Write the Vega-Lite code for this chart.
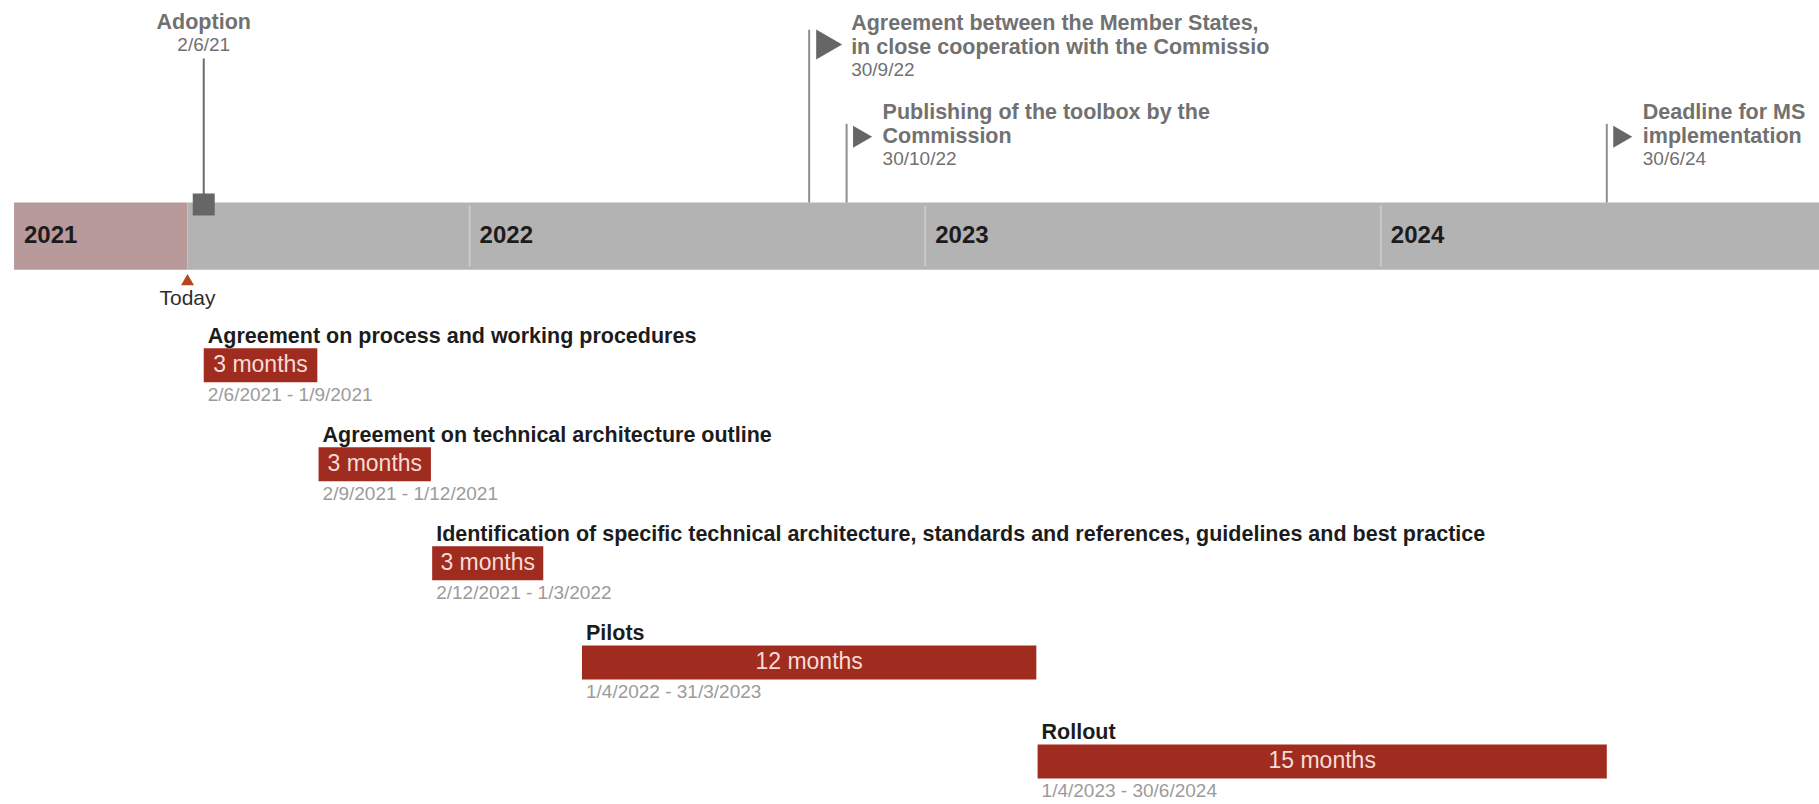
{
  "$schema": "https://vega.github.io/schema/vega-lite/v6.json",
  "width": 1805,
  "height": 804,
  "autosize": {"type": "none"},
  "padding": {"left": 14, "right": 0, "top": 0, "bottom": 0},
  "background": "white",
  "config": {"view": {"stroke": null}, "font": "Liberation Sans", "text": {"font": "Liberation Sans"}},
  "datasets": {
    "band": [
      {"seg": "past", "from": "2021-01-01", "to": "2021-05-20"},
      {"seg": "future", "from": "2021-05-20", "to": "2025-01-01"}
    ],
    "years": [
      {"year": "2021", "start": "2021-01-01"},
      {"year": "2022", "start": "2022-01-01"},
      {"year": "2023", "start": "2023-01-01"},
      {"year": "2024", "start": "2024-01-01"}
    ],
    "today": [{"label": "Today", "date": "2021-05-20"}],
    "milestones": [
      {"kind": "adoption", "title": "Adoption", "date": "2021-06-02", "label": "2/6/21"},
      {"kind": "upper", "title": "Agreement between the Member States,\nin close cooperation with the Commissio", "date": "2022-09-30", "label": "30/9/22"},
      {"kind": "lower", "title": "Publishing of the toolbox by the\nCommission", "date": "2022-10-30", "label": "30/10/22"},
      {"kind": "lower", "title": "Deadline for MS\nimplementation", "date": "2024-06-30", "label": "30/6/24"}
    ],
    "tasks": [
      {"row": 1, "task": "Agreement on process and working procedures", "start": "2021-06-02", "end": "2021-09-01", "dur": "3 months", "range": "2/6/2021 - 1/9/2021"},
      {"row": 2, "task": "Agreement on technical architecture outline", "start": "2021-09-02", "end": "2021-12-01", "dur": "3 months", "range": "2/9/2021 - 1/12/2021"},
      {"row": 3, "task": "Identification of specific technical architecture, standards and references, guidelines and best practice", "start": "2021-12-02", "end": "2022-03-01", "dur": "3 months", "range": "2/12/2021 - 1/3/2022"},
      {"row": 4, "task": "Pilots", "start": "2022-04-01", "end": "2023-03-31", "dur": "12 months", "range": "1/4/2022 - 31/3/2023"},
      {"row": 5, "task": "Rollout", "start": "2023-04-01", "end": "2024-06-30", "dur": "15 months", "range": "1/4/2023 - 30/6/2024"}
    ]
  },
  "layer": [
    {
      "data": {"name": "band", "format": {"parse": {"from": "date", "to": "date"}}},
      "mark": {"type": "rect", "clip": true},
      "encoding": {
        "x": {"field": "from", "type": "temporal", "axis": null, "scale": {"type": "utc", "domain": [{"year": 2021, "month": 1, "date": 1, "utc": true}, {"year": 2024, "month": 12, "date": 17, "utc": true}]}},
        "x2": {"field": "to"},
        "y": {"datum": -0.645, "type": "quantitative", "axis": null, "scale": {"domain": [-2.64, 5.38], "reverse": true, "nice": false, "zero": false}},
        "y2": {"datum": 0.033},
        "color": {"field": "seg", "type": "nominal", "legend": null, "scale": {"domain": ["past", "future"], "range": ["#b99a9a", "#b3b3b3"]}}
      }
    },
    {
      "data": {"name": "years", "format": {"parse": {"start": "date"}}},
      "transform": [{"filter": "datum.year != '2021'"}],
      "mark": {"type": "rule", "color": "#c9c9c9", "strokeWidth": 2},
      "encoding": {
        "x": {"field": "start", "type": "temporal"},
        "y": {"datum": -0.615, "type": "quantitative"},
        "y2": {"datum": 0.003}
      }
    },
    {
      "data": {"name": "years", "format": {"parse": {"start": "date"}}},
      "mark": {"type": "text", "align": "left", "baseline": "middle", "dx": 10, "fontSize": 24, "fontWeight": "bold", "color": "#1c1c1c"},
      "encoding": {
        "x": {"field": "start", "type": "temporal"},
        "y": {"datum": -0.306, "type": "quantitative"},
        "text": {"field": "year", "type": "nominal"}
      }
    },
    {
      "data": {"name": "today", "format": {"parse": {"date": "date"}}},
      "mark": {"type": "point", "shape": "triangle-up", "filled": true, "opacity": 1, "size": 169, "color": "#b4471e"},
      "encoding": {
        "x": {"field": "date", "type": "temporal"},
        "y": {"datum": 0.133, "type": "quantitative"}
      }
    },
    {
      "data": {"name": "today", "format": {"parse": {"date": "date"}}},
      "mark": {"type": "text", "align": "center", "baseline": "middle", "fontSize": 21, "color": "#2e2e2e"},
      "encoding": {
        "x": {"field": "date", "type": "temporal"},
        "y": {"datum": 0.333, "type": "quantitative"},
        "text": {"field": "label", "type": "nominal"}
      }
    },
    {
      "data": {"name": "milestones", "format": {"parse": {"date": "date"}}},
      "transform": [{"filter": "datum.kind == 'adoption'"}],
      "layer": [
        {
          "mark": {"type": "rule", "color": "#6b6b6b", "strokeWidth": 2},
          "encoding": {
            "x": {"field": "date", "type": "temporal"},
            "y": {"datum": -2.1, "type": "quantitative"},
            "y2": {"datum": -0.645}
          }
        },
        {
          "mark": {"type": "point", "shape": "square", "filled": true, "opacity": 1, "size": 484, "color": "#666666"},
          "encoding": {
            "x": {"field": "date", "type": "temporal"},
            "y": {"datum": -0.625, "type": "quantitative"}
          }
        },
        {
          "mark": {"type": "text", "align": "center", "baseline": "middle", "fontSize": 21.5, "fontWeight": "bold", "color": "#717171"},
          "encoding": {
            "x": {"field": "date", "type": "temporal"},
            "y": {"datum": -2.46, "type": "quantitative"},
            "text": {"field": "title", "type": "nominal"}
          }
        },
        {
          "mark": {"type": "text", "align": "center", "baseline": "middle", "fontSize": 19, "color": "#717171"},
          "encoding": {
            "x": {"field": "date", "type": "temporal"},
            "y": {"datum": -2.24, "type": "quantitative"},
            "text": {"field": "label", "type": "nominal"}
          }
        }
      ]
    },
    {
      "data": {"name": "milestones", "format": {"parse": {"date": "date"}}},
      "transform": [{"filter": "datum.kind == 'upper'"}],
      "layer": [
        {
          "mark": {"type": "rule", "color": "#8f8f8f", "strokeWidth": 2},
          "encoding": {
            "x": {"field": "date", "type": "temporal"},
            "y": {"datum": -2.39, "type": "quantitative"},
            "y2": {"datum": -0.645}
          }
        },
        {
          "mark": {"type": "point", "shape": "triangle-right", "filled": true, "opacity": 1, "size": 900, "color": "#666666", "xOffset": 20},
          "encoding": {
            "x": {"field": "date", "type": "temporal"},
            "y": {"datum": -2.24, "type": "quantitative"}
          }
        },
        {
          "mark": {"type": "text", "align": "left", "baseline": "middle", "dx": 42, "lineBreak": "\n", "lineHeight": 23.5, "fontSize": 21.5, "fontWeight": "bold", "color": "#717171"},
          "encoding": {
            "x": {"field": "date", "type": "temporal"},
            "y": {"datum": -2.445, "type": "quantitative"},
            "text": {"field": "title", "type": "nominal"}
          }
        },
        {
          "mark": {"type": "text", "align": "left", "baseline": "middle", "dx": 42, "fontSize": 19, "color": "#717171"},
          "encoding": {
            "x": {"field": "date", "type": "temporal"},
            "y": {"datum": -1.985, "type": "quantitative"},
            "text": {"field": "label", "type": "nominal"}
          }
        }
      ]
    },
    {
      "data": {"name": "milestones", "format": {"parse": {"date": "date"}}},
      "transform": [{"filter": "datum.kind == 'lower'"}],
      "layer": [
        {
          "mark": {"type": "rule", "color": "#8f8f8f", "strokeWidth": 2},
          "encoding": {
            "x": {"field": "date", "type": "temporal"},
            "y": {"datum": -1.44, "type": "quantitative"},
            "y2": {"datum": -0.645}
          }
        },
        {
          "mark": {"type": "point", "shape": "triangle-right", "filled": true, "opacity": 1, "size": 484, "color": "#666666", "xOffset": 16},
          "encoding": {
            "x": {"field": "date", "type": "temporal"},
            "y": {"datum": -1.31, "type": "quantitative"}
          }
        },
        {
          "mark": {"type": "text", "align": "left", "baseline": "middle", "dx": 36, "lineBreak": "\n", "lineHeight": 23.5, "fontSize": 21.5, "fontWeight": "bold", "color": "#717171"},
          "encoding": {
            "x": {"field": "date", "type": "temporal"},
            "y": {"datum": -1.545, "type": "quantitative"},
            "text": {"field": "title", "type": "nominal"}
          }
        },
        {
          "mark": {"type": "text", "align": "left", "baseline": "middle", "dx": 36, "fontSize": 19, "color": "#717171"},
          "encoding": {
            "x": {"field": "date", "type": "temporal"},
            "y": {"datum": -1.085, "type": "quantitative"},
            "text": {"field": "label", "type": "nominal"}
          }
        }
      ]
    },
    {
      "data": {"name": "tasks", "format": {"parse": {"start": "date", "end": "date"}}},
      "mark": {"type": "bar", "orient": "horizontal", "size": 34, "color": "#a02b1f"},
      "encoding": {
        "x": {"field": "start", "type": "temporal"},
        "x2": {"field": "end"},
        "y": {"field": "row", "type": "quantitative"}
      }
    },
    {
      "data": {"name": "tasks", "format": {"parse": {"start": "date", "end": "date"}}},
      "transform": [
        {"fold": ["start", "end"], "as": ["edge", "when"]},
        {"aggregate": [{"op": "mean", "field": "when", "as": "mid"}], "groupby": ["row", "dur"]}
      ],
      "mark": {"type": "text", "align": "center", "baseline": "middle", "fontSize": 23, "color": "#f7dcd6"},
      "encoding": {
        "x": {"field": "mid", "type": "temporal"},
        "y": {"field": "row", "type": "quantitative"},
        "text": {"field": "dur", "type": "nominal"}
      }
    },
    {
      "data": {"name": "tasks", "format": {"parse": {"start": "date", "end": "date"}}},
      "mark": {"type": "text", "align": "left", "baseline": "middle", "dx": 4, "dy": -28, "fontSize": 21.5, "fontWeight": "bold", "color": "#1c1c1c"},
      "encoding": {
        "x": {"field": "start", "type": "temporal"},
        "y": {"field": "row", "type": "quantitative"},
        "text": {"field": "task", "type": "nominal"}
      }
    },
    {
      "data": {"name": "tasks", "format": {"parse": {"start": "date", "end": "date"}}},
      "mark": {"type": "text", "align": "left", "baseline": "middle", "dx": 4, "dy": 30, "fontSize": 19, "color": "#9b9b9b"},
      "encoding": {
        "x": {"field": "start", "type": "temporal"},
        "y": {"field": "row", "type": "quantitative"},
        "text": {"field": "range", "type": "nominal"}
      }
    }
  ]
}
